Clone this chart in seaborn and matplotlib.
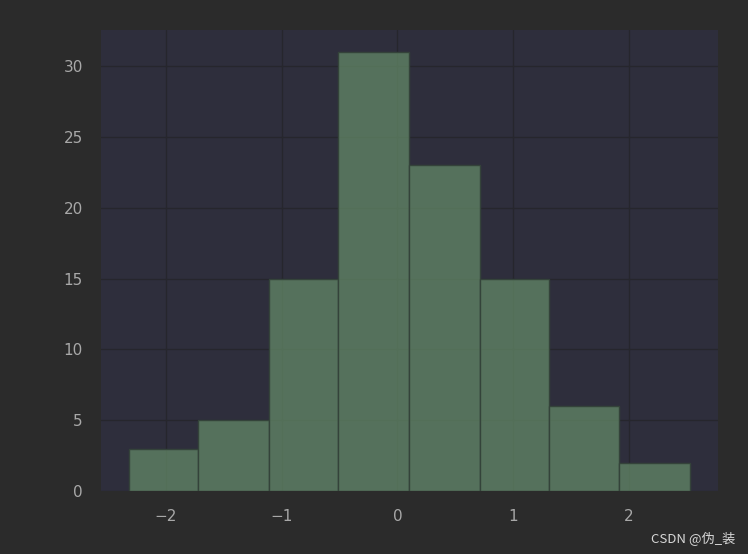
import numpy as np
import pandas as pd
import matplotlib
matplotlib.use("Agg")
import matplotlib.pyplot as plt
import seaborn as sns

# histogram
bin_edges = [-2.32, -1.72, -1.11, -0.51, 0.10, 0.71, 1.31, 1.92, 2.53]
counts = [3, 5, 15, 31, 23, 15, 6, 2]
centers = [(a + b) / 2 for a, b in zip(bin_edges[:-1], bin_edges[1:])]

df = pd.DataFrame({"x": centers, "n": counts})

sns.set_theme(style="darkgrid", rc={
    "figure.facecolor": "#2b2b2b",
    "axes.facecolor": "#2e2e3c",
    "grid.color": "#26262d",
    "grid.linewidth": 1.0,
    "xtick.color": "#a8a8a8",
    "ytick.color": "#a8a8a8",
    "axes.edgecolor": "#2e2e3c",
})
plt.rcParams["font.family"] = ["DejaVu Sans"]

fig = plt.figure(figsize=(7.48, 5.54), dpi=100)
ax = fig.add_axes([0.135, 0.1137, 0.825, 0.832])
sns.histplot(
    data=df, x="x", weights="n", bins=bin_edges,
    color="#638967", alpha=0.75, edgecolor="#34433a", linewidth=1.0, ax=ax
)
ax.set_xlabel("")
ax.set_ylabel("")
ax.tick_params(labelsize=11, length=0, pad=13)
for s in ax.spines.values():
    s.set_visible(False)

fig.text(0.87, 0.02, "CSDN @伪_装", color="#d8d8d8", fontsize=9.5,
         family=["Noto Sans CJK SC", "DejaVu Sans"])

fig.savefig("out.png", dpi=100, facecolor=fig.get_facecolor())
